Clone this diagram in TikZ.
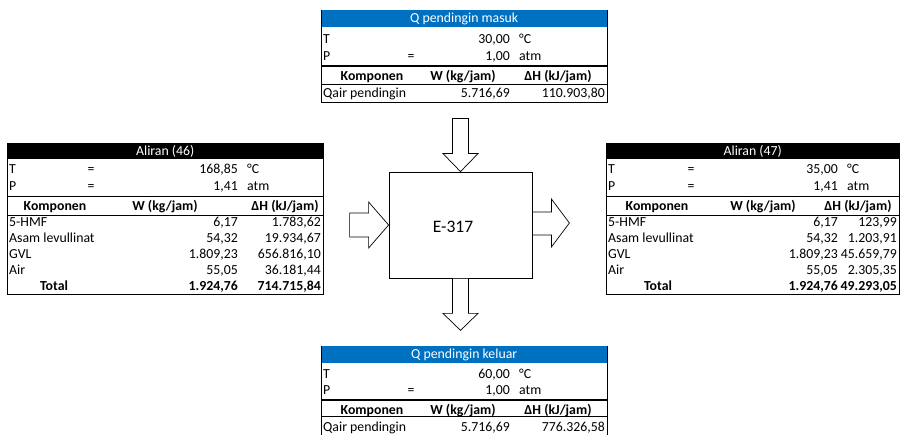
\documentclass[tikz,border=0pt]{standalone}
\usepackage{fontspec}
\setmainfont{Carlito}
\usetikzlibrary{positioning,calc}
\definecolor{qBlue}{RGB}{0,112,192}
\newcommand{\tblfont}{\fontsize{13.8}{16}\selectfont}
\tikzset{
    txtL/.style={inner sep=0pt, anchor=base west, font=\tblfont},
    txtR/.style={inner sep=0pt, anchor=base east, font=\tblfont},
    txtC/.style={inner sep=0pt, anchor=base, font=\tblfont},
    txtB/.style={font=\tblfont\bfseries},
    % table headers
    hdrQ/.style={fill=qBlue, text=white, inner sep=0pt, anchor=north west, font=\tblfont},
    hdrA/.style={fill=black, text=white, inner sep=0pt, anchor=north west, font=\tblfont},
    % borders
    tblline/.style={line width=0.8pt},
    thickline/.style={line width=1.5pt},
    % unit and arrows
    unitbox/.style={draw, line width=0.8pt, minimum width=143, minimum height=106, inner sep=0pt},
    blkarrow/.style={draw, fill=white, line width=0.7pt, line join=miter}
}

\begin{document}
\begin{tikzpicture}[x=1pt, y=-1pt]
\path[fill=white, use as bounding box] (0,0) rectangle (902,435);

% Q pendingin masuk
\begin{scope}[shift={(321,10)}]
\node[hdrQ, minimum width=286, minimum height=17.3] (qinh) at (0,0) {Q pendingin masuk};
\draw[tblline] (0,0) -- (0,92.3) -- (286,92.3) -- (286,0);
\draw[thickline] (0,56) -- (286,56);
\draw[tblline] (0,74) -- (286,74);
\node[txtL] (qinT) at (2,33.3) {T};
\node[txtR] (qinTv) at (189,33.3) {30,00};
\node[txtL] (qinTu) at (198,33.3) {°C};
\node[txtL] (qinP) at (2,51) {P};
\node[txtC] (qinPeq) at (90,51) {=};
\node[txtR] (qinPv) at (189,51) {1,00};
\node[txtL] (qinPu) at (198,51) {atm};
\node[txtC, txtB] (qinK) at (51,70.3) {Komponen};
\node[txtC, txtB] (qinW) at (142,70.3) {W (kg/jam)};
\node[txtC, txtB] (qinH) at (237,70.3) {ΔH (kJ/jam)};
\node[txtL] (qinr1n) at (2,87.6) {Qair pendingin};
\node[txtR] (qinr1w) at (189,87.6) {5.716,69};
\node[txtR] (qinr1h) at (284,87.6) {110.903,80};
\end{scope}

% Aliran (46)
\begin{scope}[shift={(7,143)}]
\node[hdrA, minimum width=316, minimum height=16] (a46h) at (0,0) {Aliran (46)};
\draw[tblline] (0,0) -- (0,151) -- (316,151) -- (316,0);
\draw[thickline] (0,53.7) -- (316,53.7);
\draw[tblline] (0,72) -- (316,72);
\node[txtL] (a46T) at (2,30.3) {T};
\node[txtC] (a46Teq) at (84,30.3) {=};
\node[txtR] (a46Tv) at (231,30.3) {168,85};
\node[txtL] (a46Tu) at (240,30.3) {°C};
\node[txtL] (a46P) at (2,47.8) {P};
\node[txtC] (a46Peq) at (84,47.8) {=};
\node[txtR] (a46Pv) at (231,47.8) {1,41};
\node[txtL] (a46Pu) at (240,47.8) {atm};
\node[txtC, txtB] (a46K) at (48,67.8) {Komponen};
\node[txtC, txtB] (a46W) at (158,67.8) {W (kg/jam)};
\node[txtC, txtB] (a46H) at (278,67.8) {ΔH (kJ/jam)};
\node[txtL] (a46r1n) at (2,83.5) {5-HMF};
\node[txtR] (a46r1w) at (231,83.5) {6,17};
\node[txtR] (a46r1h) at (314,83.5) {1.783,62};
\node[txtL] (a46r2n) at (2,99.5) {Asam levullinat};
\node[txtR] (a46r2w) at (231,99.5) {54,32};
\node[txtR] (a46r2h) at (314,99.5) {19.934,67};
\node[txtL] (a46r3n) at (2,115.5) {GVL};
\node[txtR] (a46r3w) at (231,115.5) {1.809,23};
\node[txtR] (a46r3h) at (314,115.5) {656.816,10};
\node[txtL] (a46r4n) at (2,131.5) {Air};
\node[txtR] (a46r4w) at (231,131.5) {55,05};
\node[txtR] (a46r4h) at (314,131.5) {36.181,44};
\node[txtC, txtB] (a46tot) at (47,147.5) {Total};
\node[txtR, txtB] (a46totw) at (231,147.5) {1.924,76};
\node[txtR, txtB] (a46toth) at (314,147.5) {714.715,84};
\end{scope}

% Aliran (47)
\begin{scope}[shift={(606,143)}]
\node[hdrA, minimum width=293, minimum height=16] (a47h) at (0,0) {Aliran (47)};
\draw[tblline] (0,0) -- (0,151) -- (293,151) -- (293,0);
\draw[thickline] (0,53.7) -- (293,53.7);
\draw[tblline] (0,72) -- (293,72);
\node[txtL] (a47T) at (2,30.3) {T};
\node[txtC] (a47Teq) at (85,30.3) {=};
\node[txtR] (a47Tv) at (232,30.3) {35,00};
\node[txtL] (a47Tu) at (241,30.3) {°C};
\node[txtL] (a47P) at (2,47.8) {P};
\node[txtC] (a47Peq) at (85,47.8) {=};
\node[txtR] (a47Pv) at (232,47.8) {1,41};
\node[txtL] (a47Pu) at (241,47.8) {atm};
\node[txtC, txtB] (a47K) at (51,67.8) {Komponen};
\node[txtC, txtB] (a47W) at (157,67.8) {W (kg/jam)};
\node[txtC, txtB] (a47H) at (252,67.8) {ΔH (kJ/jam)};
\node[txtL] (a47r1n) at (2,83.5) {5-HMF};
\node[txtR] (a47r1w) at (232,83.5) {6,17};
\node[txtR] (a47r1h) at (291,83.5) {123,99};
\node[txtL] (a47r2n) at (2,99.5) {Asam levullinat};
\node[txtR] (a47r2w) at (232,99.5) {54,32};
\node[txtR] (a47r2h) at (291,99.5) {1.203,91};
\node[txtL] (a47r3n) at (2,115.5) {GVL};
\node[txtR] (a47r3w) at (232,115.5) {1.809,23};
\node[txtR] (a47r3h) at (291,115.5) {45.659,79};
\node[txtL] (a47r4n) at (2,131.5) {Air};
\node[txtR] (a47r4w) at (232,131.5) {55,05};
\node[txtR] (a47r4h) at (291,131.5) {2.305,35};
\node[txtC, txtB] (a47tot) at (52,147.5) {Total};
\node[txtR, txtB] (a47totw) at (232,147.5) {1.924,76};
\node[txtR, txtB] (a47toth) at (291,147.5) {49.293,05};
\end{scope}

% Q pendingin keluar
\begin{scope}[shift={(321,346)}]
\node[hdrQ, minimum width=286, minimum height=16.5] (qouth) at (0,0) {Q pendingin keluar};
\draw[tblline] (0,0) -- (0,89);
\draw[tblline] (286,0) -- (286,89);
\draw[thickline] (0,54) -- (286,54);
\draw[tblline] (0,70.7) -- (286,70.7);
\node[txtL] (qoutT) at (2,32.3) {T};
\node[txtR] (qoutTv) at (189,32.3) {60,00};
\node[txtL] (qoutTu) at (198,32.3) {°C};
\node[txtL] (qoutP) at (2,49) {P};
\node[txtC] (qoutPeq) at (90,49) {=};
\node[txtR] (qoutPv) at (189,49) {1,00};
\node[txtL] (qoutPu) at (198,49) {atm};
\node[txtC, txtB] (qoutK) at (51,68.3) {Komponen};
\node[txtC, txtB] (qoutW) at (142,68.3) {W (kg/jam)};
\node[txtC, txtB] (qoutH) at (237,68.3) {ΔH (kJ/jam)};
\node[txtL] (qoutr1n) at (2,85.6) {Qair pendingin};
\node[txtR] (qoutr1w) at (189,85.6) {5.716,69};
\node[txtR] (qoutr1h) at (284,85.6) {776.326,58};
\end{scope}

% E-317
\node[unitbox, label={[name=e317lbl, font=\fontsize{17.5}{20}\selectfont, xshift=-7.5pt, yshift=-2pt]center:E-317}] (e317) at (460.5,225) {};

\draw[blkarrow, shift={(e317.north)}] (0,0) -- (-17.5,-18) -- (-8,-18) -- (-8,-53) -- (8,-53) -- (8,-18) -- (17.5,-18) -- cycle;
\draw[blkarrow, shift={(e317.west)}] (0,0) -- (-20,-23) -- (-20,-12) -- (-39,-12) -- (-39,12) -- (-20,12) -- (-20,23) -- cycle;
\draw[blkarrow, shift={(e317.east)}] (37,-2) -- (19,-26) -- (19,-13) -- (0,-13) -- (0,10) -- (19,10) -- (19,22) -- cycle;
\draw[blkarrow, shift={(e317.south)}] (0,52) -- (-17.5,35) -- (-8,35) -- (-8,0) -- (8,0) -- (8,35) -- (17.5,35) -- cycle;
\end{tikzpicture}
\end{document}
